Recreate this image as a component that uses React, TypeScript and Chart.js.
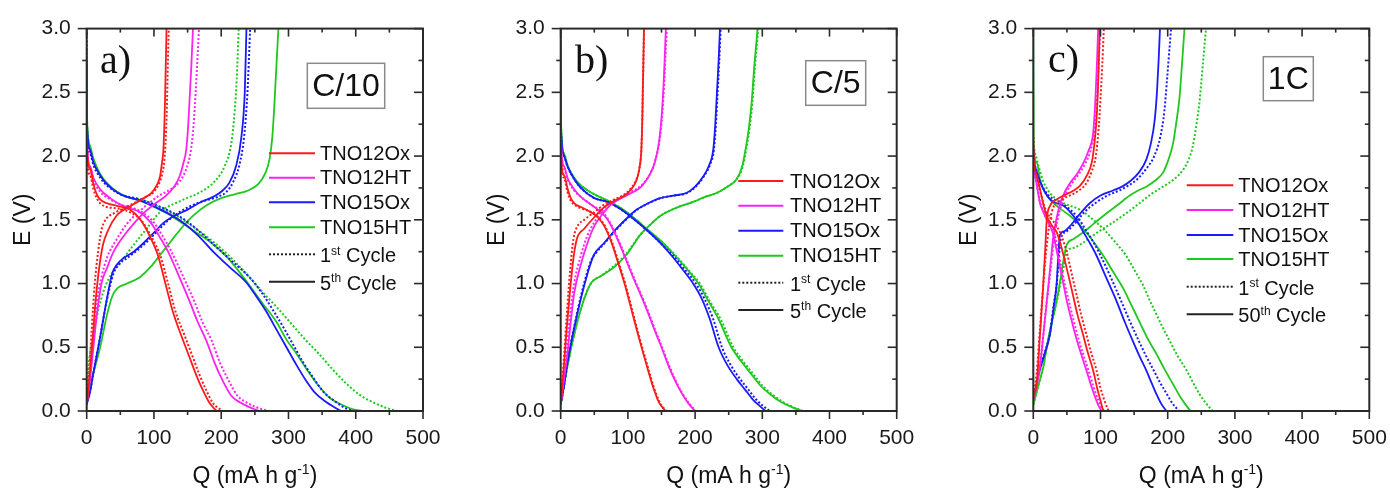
import React, { useEffect, useRef } from 'react';
import { Chart, registerables } from 'chart.js';
Chart.register(...registerables);

type P = [number, number];

// ---------- axis ticks & labels ----------
const xMajorTicks = [0, 100, 200, 300, 400, 500];
const xMinorTicks = [50, 150, 250, 350, 450];
const yMajorTicks = [0, 0.5, 1, 1.5, 2, 2.5, 3];
const yMinorTicks = [0.25, 0.75, 1.25, 1.75, 2.25, 2.75];
const materials = ['TNO12Ox', 'TNO12HT', 'TNO15Ox', 'TNO15HT'];
const rateLabels = ['C/10', 'C/5', '1C'];
const panelLetters = ['a)', 'b)', 'c)'];
const laterCycleNumbers = ['5', '5', '50'];

// ---------- panel a (C/10) ----------
const aRedDis5: P[] = [[0,2.75],[0.5,2.05],[5,1.9],[10,1.78],[15,1.7],[20,1.66],[30,1.63],[45,1.61],[64,1.58],[80,1.5],[93,1.38],[106,1.22],[117,1.0],[128,0.78],[140,0.6],[153,0.42],[163,0.28],[173,0.16],[183,0.06],[193,0]];
const aRedDis1: P[] = [[0,3.0],[0.5,2.0],[5,1.85],[10,1.74],[15,1.67],[20,1.63],[30,1.6],[45,1.59],[64,1.56],[82,1.49],[96,1.37],[110,1.21],[121,1.0],[132,0.78],[145,0.6],[158,0.42],[168,0.28],[178,0.16],[188,0.06],[202,0]];
const aRedChg5: P[] = [[0,0.05],[3,0.2],[8,0.5],[13,0.85],[18,1.1],[24,1.3],[32,1.42],[44,1.53],[56,1.58],[69,1.62],[85,1.67],[96,1.71],[104,1.77],[109,1.84],[112,1.95],[114,2.05],[115.5,2.25],[116.5,2.45],[117.5,2.7],[118.7,3.0]];
const aRedChg1: P[] = [[0,0.05],[3,0.25],[7,0.6],[12,1.0],[17,1.25],[22,1.42],[28,1.5],[40,1.55],[55,1.59],[70,1.63],[88,1.68],[100,1.72],[108,1.79],[113,1.88],[116,2.0],[118,2.2],[119.5,2.45],[120.5,2.7],[122,3.0]];
const aMagDis5: P[] = [[0,2.85],[0.5,2.1],[5,1.92],[10,1.83],[20,1.74],[35,1.67],[50,1.62],[65,1.59],[79,1.56],[95,1.48],[108,1.37],[121,1.25],[137,1.06],[153,0.86],[165,0.7],[178,0.55],[190,0.38],[202,0.24],[215,0.12],[227,0.07],[242,0.03],[257,0]];
const aMagDis1: P[] = [[0,3.0],[0.5,2.1],[5,1.9],[10,1.81],[20,1.72],[35,1.66],[50,1.62],[65,1.6],[82,1.56],[98,1.49],[112,1.38],[126,1.25],[143,1.06],[160,0.86],[172,0.7],[186,0.55],[198,0.38],[211,0.24],[224,0.12],[237,0.07],[252,0.03],[270,0]];
const aMagChg5: P[] = [[0,0.05],[5,0.25],[10,0.5],[15,0.75],[22,1.0],[30,1.12],[40,1.25],[59,1.4],[70,1.47],[84,1.55],[100,1.62],[118,1.69],[130,1.76],[138,1.84],[144,1.95],[148,2.05],[151,2.25],[153,2.45],[155.5,2.7],[158,3.0]];
const aMagChg1: P[] = [[0,0.05],[5,0.3],[10,0.6],[15,0.85],[22,1.05],[30,1.2],[45,1.35],[60,1.47],[75,1.55],[90,1.62],[108,1.69],[125,1.74],[138,1.8],[148,1.9],[155,2.05],[159,2.25],[162,2.5],[164.5,2.75],[167,3.0]];
const aBlueDis5: P[] = [[0,2.7],[0.5,2.25],[5,2.05],[10,1.95],[20,1.85],[30,1.78],[50,1.7],[80,1.65],[110,1.58],[140,1.49],[165,1.38],[188,1.25],[212,1.13],[237,1.01],[252,0.9],[267,0.78],[282,0.64],[297,0.5],[312,0.36],[326,0.24],[340,0.14],[356,0.07],[368,0.03],[378,0]];
const aBlueDis1: P[] = [[0,2.7],[0.5,2.2],[5,2.02],[10,1.93],[20,1.83],[30,1.77],[50,1.7],[80,1.66],[110,1.6],[140,1.52],[165,1.42],[190,1.3],[215,1.18],[242,1.05],[260,0.93],[276,0.8],[292,0.66],[307,0.52],[322,0.38],[337,0.26],[352,0.15],[368,0.08],[382,0.03],[396,0]];
const aBlueChg5: P[] = [[0,0.05],[5,0.15],[10,0.3],[20,0.58],[30,0.88],[38,1.08],[45,1.15],[55,1.2],[70,1.25],[85,1.32],[100,1.4],[115,1.48],[130,1.53],[150,1.58],[170,1.64],[188,1.68],[200,1.72],[212,1.79],[222,1.92],[230,2.15],[235,2.5],[237.5,3.0]];
const aBlueChg1: P[] = [[0,0.05],[5,0.15],[10,0.3],[20,0.58],[30,0.87],[40,1.08],[48,1.15],[60,1.2],[75,1.26],[90,1.33],[105,1.41],[120,1.49],[135,1.55],[155,1.61],[175,1.65],[195,1.68],[208,1.72],[218,1.8],[227,1.93],[234,2.15],[239,2.5],[243,3.0]];
const aGreenDis5: P[] = [[0,2.65],[0.5,2.3],[5,2.08],[10,1.98],[20,1.86],[30,1.79],[45,1.72],[60,1.68],[80,1.65],[100,1.6],[120,1.55],[140,1.48],[160,1.41],[185,1.32],[210,1.2],[240,1.0],[262,0.84],[282,0.7],[297,0.56],[312,0.45],[328,0.32],[346,0.19],[362,0.1],[381,0.045],[395,0.015],[410,0]];
const aGreenDis1: P[] = [[0,2.7],[0.5,2.25],[5,2.05],[10,1.96],[20,1.85],[30,1.78],[45,1.72],[60,1.68],[80,1.66],[100,1.62],[120,1.57],[140,1.51],[165,1.42],[190,1.32],[215,1.2],[240,1.06],[262,0.93],[285,0.8],[305,0.68],[325,0.56],[345,0.45],[365,0.33],[385,0.22],[405,0.13],[425,0.07],[445,0.025],[461,0]];
const aGreenChg5: P[] = [[0,0.05],[5,0.2],[10,0.3],[20,0.5],[30,0.75],[38,0.9],[45,0.96],[60,1.0],[79,1.05],[95,1.13],[110,1.23],[125,1.33],[140,1.43],[160,1.54],[180,1.62],[200,1.67],[220,1.7],[240,1.73],[255,1.78],[265,1.86],[272,1.98],[276,2.15],[279,2.4],[282,2.7],[285,3.0]];
const aGreenChg1: P[] = [[0,0.1],[2,0.3],[10,0.6],[25,0.94],[54,1.19],[89,1.43],[109,1.56],[140,1.65],[170,1.72],[190,1.8],[205,1.92],[215,2.1],[220,2.35],[223,2.6],[226,3.0]];

// ---------- panel b (C/5) ----------
const bRedDis5: P[] = [[0,2.9],[0.5,2.0],[5,1.85],[10,1.75],[15,1.67],[20,1.63],[30,1.6],[45,1.56],[55,1.52],[65,1.45],[75,1.33],[85,1.17],[95,1.0],[105,0.8],[115,0.6],[123,0.45],[130,0.32],[138,0.18],[146,0.07],[156,0]];
const bRedDis1: P[] = [[0,3.0],[0.5,1.98],[5,1.83],[10,1.72],[15,1.65],[20,1.62],[30,1.59],[45,1.56],[56,1.52],[66,1.45],[76,1.33],[86,1.17],[96,1.0],[106,0.8],[116,0.6],[124,0.45],[131,0.32],[139,0.18],[147,0.07],[157,0]];
const bRedChg5: P[] = [[0,0.05],[4,0.3],[9,0.65],[14,0.95],[19,1.2],[24,1.35],[35,1.43],[50,1.52],[65,1.6],[80,1.65],[95,1.69],[105,1.74],[112,1.8],[117,1.9],[120,2.05],[121.5,2.3],[122.5,2.6],[124,3.0]];
const bRedChg1: P[] = [[0,0.05],[4,0.35],[9,0.75],[14,1.1],[19,1.35],[25,1.45],[35,1.5],[50,1.56],[65,1.62],[80,1.66],[95,1.7],[105,1.75],[112,1.81],[117,1.9],[120,2.05],[121.5,2.3],[122.5,2.6],[124,3.0]];
const bMagDis5: P[] = [[0,2.9],[0.5,2.1],[5,1.92],[10,1.83],[20,1.74],[30,1.68],[45,1.62],[60,1.56],[70,1.5],[80,1.4],[90,1.28],[100,1.15],[110,1.02],[120,0.9],[130,0.77],[140,0.63],[150,0.5],[160,0.36],[170,0.24],[180,0.14],[190,0.06],[200,0]];
const bMagDis1: P[] = [[0,3.0],[0.5,2.1],[5,1.9],[10,1.82],[20,1.73],[30,1.68],[45,1.62],[60,1.57],[71,1.5],[81,1.4],[91,1.28],[101,1.15],[111,1.02],[121,0.9],[131,0.77],[141,0.63],[151,0.5],[161,0.36],[171,0.24],[181,0.14],[191,0.06],[201,0]];
const bMagChg5: P[] = [[0,0.05],[5,0.25],[10,0.45],[15,0.7],[20,0.92],[30,1.15],[40,1.32],[50,1.45],[60,1.53],[75,1.62],[90,1.67],[105,1.71],[120,1.76],[132,1.85],[140,1.95],[146,2.1],[150,2.3],[153,2.55],[155,2.8],[156.5,3.0]];
const bMagChg1: P[] = [[0,0.05],[5,0.3],[10,0.55],[15,0.8],[20,1.0],[30,1.22],[40,1.38],[50,1.48],[60,1.56],[75,1.64],[90,1.68],[105,1.72],[120,1.77],[133,1.86],[141,1.97],[147,2.12],[151,2.32],[154,2.57],[156,2.8],[158,3.0]];
const bBlueDis5: P[] = [[0,2.6],[0.5,2.2],[5,2.0],[10,1.92],[20,1.82],[30,1.75],[50,1.67],[70,1.64],[90,1.58],[110,1.5],[130,1.41],[150,1.31],[165,1.22],[180,1.12],[197,1.0],[210,0.88],[222,0.72],[235,0.5],[248,0.36],[262,0.25],[274,0.17],[286,0.09],[296,0.04],[305,0]];
const bBlueDis1: P[] = [[0,2.6],[0.5,2.2],[5,2.0],[10,1.92],[20,1.82],[30,1.75],[50,1.67],[70,1.64],[90,1.58],[110,1.5],[130,1.41],[150,1.31],[167,1.22],[183,1.12],[201,1.0],[214,0.88],[227,0.72],[240,0.5],[253,0.36],[267,0.25],[279,0.17],[291,0.09],[301,0.04],[311,0]];
const bBlueChg5: P[] = [[0,0.05],[5,0.2],[10,0.38],[20,0.65],[30,0.88],[40,1.08],[46,1.18],[50,1.23],[65,1.32],[83,1.43],[100,1.52],[113,1.58],[130,1.63],[148,1.67],[168,1.69],[187,1.71],[200,1.76],[212,1.84],[221,1.93],[227,2.05],[230,2.25],[232.5,2.5],[235,2.75],[237,3.0]];
const bBlueChg1: P[] = [[0,0.05],[5,0.2],[10,0.38],[20,0.66],[30,0.9],[40,1.1],[46,1.19],[51,1.23],[66,1.32],[84,1.43],[101,1.52],[114,1.58],[131,1.63],[149,1.67],[169,1.69],[188,1.71],[201,1.76],[213,1.84],[222,1.93],[228,2.05],[231,2.25],[233.5,2.5],[236,2.75],[238,3.0]];
const bGreenDis5: P[] = [[0,3.0],[0.5,2.25],[5,2.02],[10,1.93],[20,1.83],[30,1.77],[50,1.7],[70,1.65],[90,1.59],[110,1.51],[130,1.42],[150,1.33],[170,1.22],[190,1.1],[205,1.0],[220,0.86],[235,0.72],[254,0.5],[270,0.38],[285,0.28],[297,0.2],[312,0.13],[328,0.07],[344,0.03],[359,0]];
const bGreenDis1: P[] = [[0,3.0],[0.5,2.25],[5,2.02],[10,1.93],[20,1.83],[30,1.77],[50,1.7],[70,1.65],[90,1.59],[110,1.51],[130,1.42],[150,1.33],[171,1.22],[191,1.1],[207,1.0],[222,0.86],[238,0.72],[257,0.5],[273,0.38],[288,0.28],[300,0.2],[315,0.13],[331,0.07],[346,0.03],[361,0]];
const bGreenChg5: P[] = [[0,0.05],[5,0.2],[10,0.35],[20,0.6],[30,0.8],[40,0.95],[46,1.01],[60,1.06],[75,1.11],[88,1.17],[100,1.24],[118,1.38],[133,1.46],[148,1.53],[170,1.59],[197,1.64],[215,1.68],[232,1.71],[248,1.76],[262,1.82],[270,1.92],[275,2.05],[280,2.22],[284,2.41],[288,2.7],[293,3.0]];
const bGreenChg1: P[] = [[0,0.05],[5,0.2],[10,0.35],[20,0.6],[30,0.8],[40,0.95],[46,1.01],[60,1.06],[75,1.12],[88,1.18],[100,1.25],[118,1.38],[133,1.46],[148,1.53],[170,1.59],[197,1.64],[215,1.68],[232,1.71],[248,1.76],[262,1.82],[271,1.92],[276,2.05],[281,2.22],[285,2.41],[289,2.7],[294,3.0]];

// ---------- panel c (1C) ----------
const cRedDis5: P[] = [[0,2.1],[0.5,2.0],[5,1.85],[10,1.74],[15,1.62],[20,1.53],[27,1.46],[35,1.4],[40,1.32],[45,1.22],[52,1.07],[59,0.91],[66,0.75],[74,0.6],[81,0.46],[89,0.32],[95,0.18],[100,0.08],[104,0]];
const cRedDis1: P[] = [[0,2.15],[0.5,2.0],[5,1.85],[10,1.73],[15,1.63],[20,1.56],[28,1.5],[36,1.44],[43,1.36],[50,1.24],[57,1.08],[64,0.92],[71,0.76],[79,0.6],[86,0.46],[94,0.32],[100,0.18],[106,0.08],[112,0]];
const cRedChg5: P[] = [[0,0.12],[5,0.21],[10,0.6],[14.8,0.99],[18,1.3],[20,1.5],[25,1.61],[35,1.66],[45,1.69],[60,1.73],[70,1.77],[80,1.85],[87,1.95],[91,2.1],[94,2.28],[96,2.5],[97.5,2.75],[99,3.0]];
const cRedChg1: P[] = [[0,0.1],[5,0.3],[10,0.65],[15,1.0],[20,1.3],[25,1.5],[30,1.6],[40,1.65],[50,1.68],[65,1.72],[78,1.78],[87,1.88],[93,2.0],[97,2.2],[100,2.45],[102.5,2.7],[105,3.0]];
const cMagDis5: P[] = [[0,2.0],[0.5,1.95],[5,1.78],[10,1.63],[15,1.56],[20,1.5],[25,1.45],[30,1.38],[35,1.25],[40,1.12],[45,0.99],[50,0.86],[57,0.71],[64,0.57],[71,0.45],[79,0.32],[86,0.2],[94,0.08],[98,0.03],[102,0]];
const cMagDis1: P[] = [[0,2.0],[0.5,1.95],[5,1.78],[10,1.64],[15,1.57],[20,1.51],[26,1.46],[32,1.38],[37,1.25],[42,1.12],[47,0.99],[53,0.86],[60,0.71],[67,0.57],[74,0.45],[82,0.32],[89,0.2],[97,0.08],[101,0.03],[106,0]];
const cMagChg5: P[] = [[0,0.1],[5,0.2],[10,0.35],[15,0.6],[20,0.86],[25,1.12],[30,1.38],[35,1.52],[40,1.63],[47,1.72],[55,1.79],[65,1.86],[74,1.94],[82,2.04],[89,2.18],[92,2.4],[94.5,2.7],[96.5,3.0]];
const cMagChg1: P[] = [[0,0.1],[5,0.2],[10,0.36],[15,0.6],[20,0.85],[26,1.12],[31,1.35],[36,1.5],[42,1.62],[50,1.72],[58,1.79],[68,1.86],[77,1.94],[85,2.04],[91,2.2],[95,2.45],[97.5,2.75],[99.5,3.0]];
const cBlueDis5: P[] = [[0,2.05],[0.5,2.0],[5,1.88],[10,1.8],[17,1.72],[25,1.66],[35,1.63],[45,1.61],[55,1.56],[64,1.5],[75,1.4],[85,1.31],[94,1.22],[109,1.04],[124,0.86],[136,0.7],[148,0.55],[158,0.43],[168,0.32],[176,0.22],[183,0.135],[190,0.06],[198,0]];
const cBlueDis1: P[] = [[0,2.05],[0.5,2.0],[5,1.88],[10,1.8],[17,1.73],[25,1.68],[35,1.65],[45,1.62],[55,1.58],[66,1.52],[78,1.42],[90,1.32],[100,1.22],[116,1.04],[131,0.86],[144,0.7],[157,0.55],[168,0.43],[179,0.32],[189,0.22],[198,0.14],[207,0.06],[217,0]];
const cBlueChg5: P[] = [[0,0.1],[5,0.22],[10,0.33],[17,0.45],[24.8,0.6],[30,0.8],[34.6,0.99],[37,1.2],[39.6,1.38],[46,1.41],[54.5,1.45],[70,1.55],[84,1.63],[100,1.69],[118.7,1.73],[132,1.76],[143.5,1.8],[157,1.87],[168,1.97],[175,2.1],[180.6,2.28],[184,2.5],[186.5,2.75],[188.5,3.0]];
const cBlueChg1: P[] = [[0,0.1],[5,0.22],[10,0.34],[17,0.46],[25,0.62],[30,0.82],[35,1.0],[38,1.2],[41,1.35],[50,1.41],[60,1.46],[76,1.56],[92,1.63],[110,1.69],[128,1.73],[142,1.77],[155,1.82],[168,1.9],[180,2.0],[189,2.15],[195,2.35],[199,2.6],[202,2.8],[205,3.0]];
const cGreenDis5: P[] = [[0,3.0],[0.5,2.1],[5,1.95],[10,1.82],[15,1.74],[22,1.68],[30,1.63],[42,1.58],[55,1.53],[67,1.47],[79,1.4],[92,1.31],[104,1.22],[119,1.09],[134,0.96],[146,0.83],[158,0.7],[170,0.57],[183,0.45],[195,0.33],[208,0.21],[220,0.1],[228,0.04],[234,0]];
const cGreenDis1: P[] = [[0,2.15],[0.5,2.1],[5,1.98],[10,1.88],[15,1.8],[22,1.73],[30,1.68],[45,1.63],[69,1.58],[87,1.51],[104,1.43],[121,1.33],[138,1.22],[151,1.1],[163,0.99],[173,0.87],[183,0.76],[193,0.65],[203,0.55],[215,0.43],[228,0.32],[238,0.22],[247,0.135],[257,0.06],[267,0]];
const cGreenChg5: P[] = [[0,0.05],[5,0.15],[10,0.25],[14.8,0.34],[20,0.5],[27,0.68],[34.6,0.86],[40,1.02],[44.5,1.17],[49.5,1.3],[60,1.35],[74,1.4],[90,1.47],[104,1.53],[124,1.61],[143.5,1.69],[156,1.73],[168,1.76],[182,1.81],[193,1.87],[201,1.97],[208,2.1],[213,2.27],[217.6,2.46],[221,2.7],[225,3.0]];
const cGreenChg1: P[] = [[0,0.05],[5,0.15],[10,0.25],[15,0.36],[20,0.5],[27,0.68],[35,0.86],[41,1.02],[46,1.15],[49.5,1.25],[60,1.28],[74,1.32],[95,1.4],[118.7,1.48],[138,1.55],[158,1.63],[175,1.7],[193,1.76],[210,1.82],[222.6,1.89],[231,1.97],[237,2.07],[242,2.22],[247,2.41],[252,2.7],[257,3.0]];

// ---------- styling ----------
const materialColors = ['#ff1a1a', '#ff22ee', '#1a1aff', '#1ec81e'];
const SANS = '"Liberation Sans", Arial, sans-serif';
const SERIF = '"Liberation Serif", "Times New Roman", serif';
const AXIS = '#2a2a2a';

type Curve = { mat: number; first: boolean; pts: P[] };

interface PanelCfg {
  idx: number;
  left: number;
  width: number;
  yAxisWidth: number;
  padRight: number;
  curves: Curve[];
  legend: { lx1: number; lx2: number; tx: number; rows: number[] };
  box: { x: number; y: number; w: number; h: number };
  letter: { x: number; y: number };
}

function curveSet(r5: P[], r1: P[], rc5: P[], rc1: P[], m5: P[], m1: P[], mc5: P[], mc1: P[],
  b5: P[], b1: P[], bc5: P[], bc1: P[], g5: P[], g1: P[], gc5: P[], gc1: P[]): Curve[] {
  return [
    { mat: 0, first: false, pts: r5 }, { mat: 0, first: true, pts: r1 },
    { mat: 0, first: false, pts: rc5 }, { mat: 0, first: true, pts: rc1 },
    { mat: 1, first: false, pts: m5 }, { mat: 1, first: true, pts: m1 },
    { mat: 1, first: false, pts: mc5 }, { mat: 1, first: true, pts: mc1 },
    { mat: 2, first: false, pts: b5 }, { mat: 2, first: true, pts: b1 },
    { mat: 2, first: false, pts: bc5 }, { mat: 2, first: true, pts: bc1 },
    { mat: 3, first: false, pts: g5 }, { mat: 3, first: true, pts: g1 },
    { mat: 3, first: false, pts: gc5 }, { mat: 3, first: true, pts: gc1 },
  ];
}

const curvesA = curveSet(aRedDis5, aRedDis1, aRedChg5, aRedChg1, aMagDis5, aMagDis1, aMagChg5, aMagChg1,
  aBlueDis5, aBlueDis1, aBlueChg5, aBlueChg1, aGreenDis5, aGreenDis1, aGreenChg5, aGreenChg1);
const curvesB = curveSet(bRedDis5, bRedDis1, bRedChg5, bRedChg1, bMagDis5, bMagDis1, bMagChg5, bMagChg1,
  bBlueDis5, bBlueDis1, bBlueChg5, bBlueChg1, bGreenDis5, bGreenDis1, bGreenChg5, bGreenChg1);
const curvesC = curveSet(cRedDis5, cRedDis1, cRedChg5, cRedChg1, cMagDis5, cMagDis1, cMagChg5, cMagChg1,
  cBlueDis5, cBlueDis1, cBlueChg5, cBlueChg1, cGreenDis5, cGreenDis1, cGreenChg5, cGreenChg1);

const panels: PanelCfg[] = [
  {
    idx: 0, left: 0, width: 470, yAxisWidth: 86.7, padRight: 47, curves: curvesA,
    legend: { lx1: 269, lx2: 315, tx: 320, rows: [153.3, 177.7, 202.3, 227.3, 254.3, 281.7] },
    box: { x: 307.3, y: 63.3, w: 77.4, h: 45 },
    letter: { x: 100, y: 73 },
  },
  {
    idx: 1, left: 460, width: 485, yAxisWidth: 100.7, padRight: 48.3, curves: curvesB,
    legend: { lx1: 278.3, lx2: 323.3, tx: 330, rows: [181, 205.7, 230.7, 255.7, 282.7, 310] },
    box: { x: 345.7, y: 60.7, w: 60, h: 44.6 },
    letter: { x: 115, y: 73 },
  },
  {
    idx: 2, left: 920, width: 495, yAxisWidth: 113.3, padRight: 45.7, curves: curvesC,
    legend: { lx1: 266.7, lx2: 313.3, tx: 318.3, rows: [185.3, 210, 235, 259, 286.7, 314.3] },
    box: { x: 343.3, y: 56.7, w: 50, h: 44 },
    letter: { x: 128, y: 72 },
  },
];

type Part = { t: string; sup?: boolean };

function drawRich(ctx: CanvasRenderingContext2D, parts: Part[], x: number, y: number, size: number, align: 'left' | 'center') {
  const supSize = Math.round(size * 0.62);
  const widths = parts.map((p) => {
    ctx.font = `${p.sup ? supSize : size}px ${SANS}`;
    return ctx.measureText(p.t).width;
  });
  const total = widths.reduce((a, b) => a + b, 0);
  let cx = align === 'center' ? x - total / 2 : x;
  ctx.textAlign = 'left';
  ctx.textBaseline = 'alphabetic';
  parts.forEach((p, i) => {
    ctx.font = `${p.sup ? supSize : size}px ${SANS}`;
    ctx.fillText(p.t, cx, p.sup ? y - size * 0.38 : y);
    cx += widths[i];
  });
}

function makeDecor(cfg: PanelCfg) {
  return {
    id: 'decor' + cfg.idx,
    afterDraw(chart: any) {
      const ctx: CanvasRenderingContext2D = chart.ctx;
      const { left, right, top, bottom } = chart.chartArea;
      const xs = chart.scales.x;
      const ys = chart.scales.y;
      ctx.save();
      ctx.strokeStyle = AXIS;
      ctx.lineWidth = 2;
      ctx.strokeRect(left, top, right - left, bottom - top);
      ctx.lineWidth = 1.6;
      const seg = (x1: number, y1: number, x2: number, y2: number) => {
        ctx.beginPath(); ctx.moveTo(x1, y1); ctx.lineTo(x2, y2); ctx.stroke();
      };
      const xT = (vals: number[], L: number) => vals.forEach((v) => {
        const px = xs.getPixelForValue(v);
        seg(px, bottom, px, bottom + L);
        seg(px, top, px, top + L);
      });
      const yT = (vals: number[], L: number) => vals.forEach((v) => {
        const py = ys.getPixelForValue(v);
        seg(left - L, py, left, py);
        seg(right - L, py, right, py);
      });
      xT(xMajorTicks, 8); xT(xMinorTicks, 4);
      yT(yMajorTicks, 9); yT(yMinorTicks, 4.5);

      ctx.fillStyle = '#111';
      drawRich(ctx, [{ t: 'Q (mA h g' }, { t: '-1', sup: true }, { t: ')' }], (left + right) / 2, 483, 23, 'center');
      ctx.save();
      ctx.translate(cfg.yAxisWidth - 63.5, (top + bottom) / 2);
      ctx.rotate(-Math.PI / 2);
      ctx.font = `23px ${SANS}`;
      ctx.textAlign = 'center';
      ctx.textBaseline = 'middle';
      ctx.fillText('E (V)', 0, 0);
      ctx.restore();

      ctx.font = `40px ${SERIF}`;
      ctx.textAlign = 'left';
      ctx.textBaseline = 'alphabetic';
      ctx.fillText(panelLetters[cfg.idx], cfg.letter.x, cfg.letter.y);

      const b = cfg.box;
      ctx.fillStyle = '#ffffff';
      ctx.fillRect(b.x, b.y, b.w, b.h);
      ctx.strokeStyle = '#8a8a8a';
      ctx.lineWidth = 1.5;
      ctx.strokeRect(b.x, b.y, b.w, b.h);
      ctx.fillStyle = '#111';
      ctx.font = `32px ${SANS}`;
      ctx.textAlign = 'center';
      ctx.textBaseline = 'middle';
      ctx.fillText(rateLabels[cfg.idx], b.x + b.w / 2, b.y + b.h / 2 + 1);

      const lg = cfg.legend;
      ctx.lineWidth = 2;
      materials.forEach((m, i) => {
        const yy = lg.rows[i];
        ctx.strokeStyle = materialColors[i];
        ctx.setLineDash([]);
        seg(lg.lx1, yy, lg.lx2, yy);
        ctx.fillStyle = '#111';
        ctx.font = `20px ${SANS}`;
        ctx.textAlign = 'left';
        ctx.textBaseline = 'middle';
        ctx.fillText(m, lg.tx, yy + 1);
      });
      ctx.strokeStyle = '#222';
      ctx.setLineDash([2, 2]);
      seg(lg.lx1, lg.rows[4], lg.lx2, lg.rows[4]);
      ctx.setLineDash([]);
      seg(lg.lx1, lg.rows[5], lg.lx2, lg.rows[5]);
      ctx.fillStyle = '#111';
      drawRich(ctx, [{ t: '1' }, { t: 'st', sup: true }, { t: ' Cycle' }], lg.tx, lg.rows[4] + 8, 20, 'left');
      drawRich(ctx, [{ t: laterCycleNumbers[cfg.idx] }, { t: 'th', sup: true }, { t: ' Cycle' }], lg.tx, lg.rows[5] + 8, 20, 'left');
      ctx.restore();
    },
  };
}

function Panel({ cfg }: { cfg: PanelCfg }) {
  const ref = useRef<HTMLCanvasElement>(null);
  useEffect(() => {
    if (!ref.current) return;
    const datasets = cfg.curves.map((c) => ({
      data: c.pts.map(([x, y]) => ({ x, y })),
      borderColor: materialColors[c.mat],
      borderWidth: c.first ? 2 : 1.8,
      borderDash: c.first ? [2, 2] : [],
      pointRadius: 0,
      fill: false,
      cubicInterpolationMode: 'monotone' as const,
    }));
    const chart = new Chart(ref.current, {
      type: 'line',
      data: { datasets },
      plugins: [makeDecor(cfg)],
      options: {
        animation: false,
        responsive: false,
        devicePixelRatio: 1,
        layout: { padding: { top: 24, right: cfg.padRight, left: 0, bottom: 0 } },
        plugins: { legend: { display: false }, tooltip: { enabled: false } },
        events: [],
        scales: {
          x: {
            type: 'linear', min: 0, max: 500,
            grid: { display: false, drawTicks: false },
            border: { display: false },
            ticks: {
              stepSize: 100, padding: 15, color: '#1a1a1a',
              font: { family: SANS, size: 21 },
              callback: (v: any) => String(v),
            },
            afterFit: (s: any) => { s.height = 78; },
          },
          y: {
            type: 'linear', min: 0, max: 3,
            grid: { display: false, drawTicks: false },
            border: { display: false },
            ticks: {
              stepSize: 0.5, padding: 16, color: '#1a1a1a',
              font: { family: SANS, size: 21 },
              callback: (v: any) => Number(v).toFixed(1),
            },
            afterFit: (s: any) => { s.width = cfg.yAxisWidth; },
          },
        },
      },
    } as any);
    return () => chart.destroy();
  }, [cfg]);
  return (
    <canvas
      ref={ref}
      width={cfg.width}
      height={489}
      style={{ position: 'absolute', left: cfg.left, top: 0, width: cfg.width, height: 489 }}
    />
  );
}

export default function App() {
  return (
    <div style={{ position: 'absolute', left: 0, top: 0, width: 1390, height: 489, background: '#fff', overflow: 'hidden' }}>
      {panels.map((p) => <Panel key={p.idx} cfg={p} />)}
    </div>
  );
}
